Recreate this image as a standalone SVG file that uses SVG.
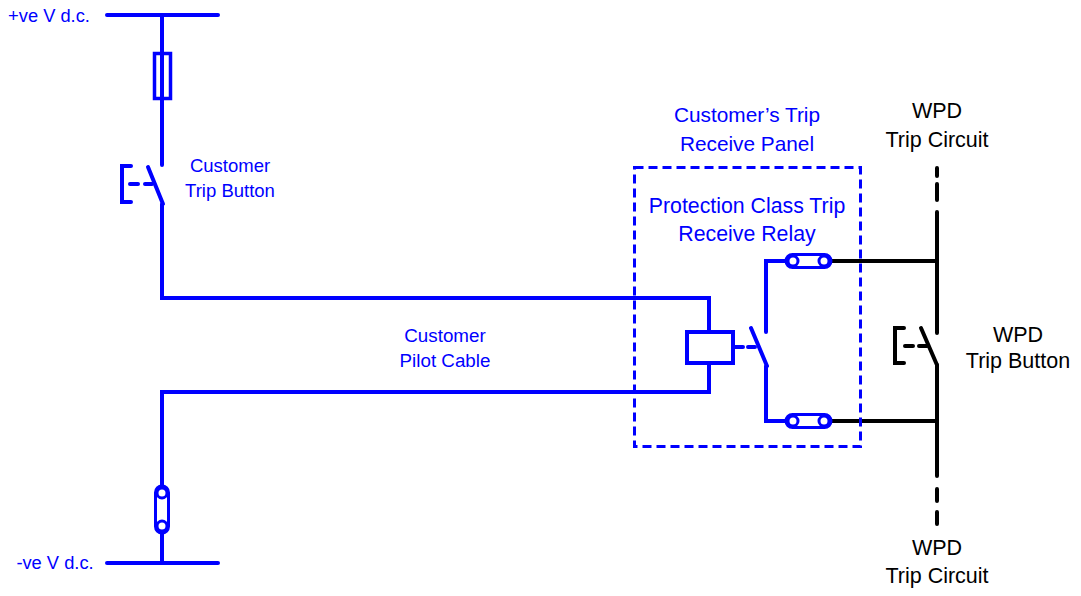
<svg xmlns="http://www.w3.org/2000/svg" width="1081" height="596" viewBox="0 0 1081 596">
<style>
.b{stroke:#0000FF;stroke-width:4;fill:none;stroke-linecap:round;stroke-linejoin:miter}
.k{stroke:#000;stroke-width:4;fill:none;stroke-linecap:round}
.bt{fill:#0000FF;font-family:"Liberation Sans",Arial,sans-serif;text-anchor:middle}
.kt{fill:#000;font-family:"Liberation Sans",Arial,sans-serif;text-anchor:middle;font-size:21.5px}
.term{stroke:#0000FF;stroke-width:3;fill:#fff}
</style>
<rect width="1081" height="596" fill="#fff"/>
<g id="connectors">
<path class="b" d="M107 15H218M162 15V165"/>
<path class="b" d="M162 204V298H709V332"/>
<path class="b" d="M709 363V392H162V487"/>
<path class="b" d="M162 532V563M107 563H218"/>
<path class="b" d="M766 332V261H786M766 366V421H786"/>
<path class="k" d="M831 261H937M831 421H937"/>
<path class="k" d="M937 212V333M937 365V476"/>
<path class="k" d="M937 168V176M937 184V200M937 489V501M937 512V524"/>
</g>
<g id="fuse">
<rect x="154.5" y="53.5" width="16" height="45" fill="none" stroke="#0000FF" stroke-width="3.5"/>
<line x1="162" y1="53" x2="162" y2="99" stroke="#0000FF" stroke-width="3"/>
</g>
<g id="customer-trip-button">
<path class="b" d="M148 167L163 204"/>
<path class="b" stroke-width="3.5" d="M131 166H122V202H131"/>
<path class="b" stroke-width="2.5" stroke-linecap="butt" d="M130 184H138M145 184H152"/>
<text class="bt" font-size="18.5" x="230" y="172">Customer</text>
<text class="bt" font-size="18.5" x="230" y="197">Trip Button</text>
</g>
<g id="pilot-terminal">
<rect class="term" x="155.5" y="486" width="13" height="47" rx="6.5"/>
<circle class="term" cx="162" cy="493" r="5"/>
<circle class="term" cx="162" cy="526" r="5"/>
</g>
<g id="supply-labels">
<text class="bt" font-size="18.3" x="49" y="22">+ve V d.c.</text>
<text class="bt" font-size="18.3" x="55" y="569">-ve V d.c.</text>
</g>
<g id="pilot-cable-label">
<text class="bt" font-size="18.8" x="445" y="342">Customer</text>
<text class="bt" font-size="18.8" x="445" y="367">Pilot Cable</text>
</g>
<g id="trip-receive-panel">
<rect x="634.5" y="167.5" width="226" height="279" fill="none" stroke="#0000FF" stroke-width="3" stroke-dasharray="9 5"/>
<text class="bt" font-size="20.8" x="747" y="122">Customer’s Trip</text>
<text class="bt" font-size="20.8" x="747" y="151">Receive Panel</text>
</g>
<g id="relay">
<text class="bt" font-size="21.3" x="747" y="213">Protection Class Trip</text>
<text class="bt" font-size="21.3" x="747" y="241">Receive Relay</text>
<rect x="687" y="332" width="46" height="31" fill="none" stroke="#0000FF" stroke-width="4"/>
<path class="b" stroke-width="2.5" stroke-linecap="butt" d="M735 347H743M748 347H755"/>
<path class="b" d="M751 328L767 366"/>
</g>
<g id="terminal-top">
<rect class="term" x="786" y="254.5" width="45" height="13" rx="6.5"/>
<circle class="term" cx="793" cy="261" r="5"/>
<circle class="term" cx="824" cy="261" r="5"/>
</g>
<g id="terminal-bottom">
<rect class="term" x="786" y="414.5" width="45" height="13" rx="6.5"/>
<circle class="term" cx="793" cy="421" r="5"/>
<circle class="term" cx="824" cy="421" r="5"/>
</g>
<g id="wpd-trip-button">
<path class="k" d="M921 328L937 365"/>
<path class="k" stroke-width="3.5" d="M904 328H895V363H904"/>
<path class="k" stroke-width="2.5" stroke-linecap="butt" d="M905 346H913M919 346H927"/>
<text class="kt" x="1018" y="342">WPD</text>
<text class="kt" x="1018" y="368">Trip Button</text>
</g>
<g id="wpd-trip-circuit-top">
<text class="kt" x="937" y="118">WPD</text>
<text class="kt" x="937" y="147">Trip Circuit</text>
</g>
<g id="wpd-trip-circuit-bottom">
<text class="kt" x="937" y="555">WPD</text>
<text class="kt" x="937" y="583">Trip Circuit</text>
</g>
</svg>
